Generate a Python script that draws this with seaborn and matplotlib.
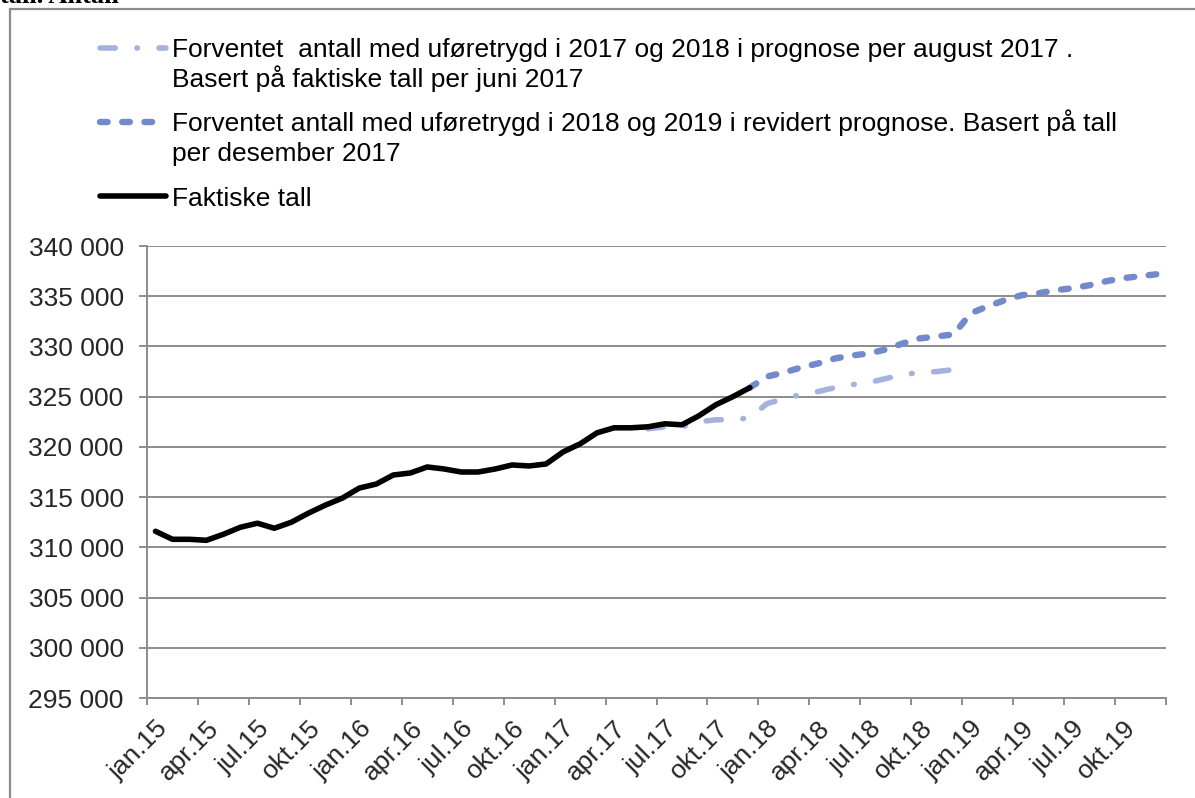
import numpy as np
import pandas as pd
import matplotlib
matplotlib.use("Agg")
import matplotlib.pyplot as plt
from matplotlib.lines import Line2D
from matplotlib.patches import Rectangle
import seaborn as sns

# ---------------- data ----------------
years = ["15", "16", "17", "18", "19"]
month_names = ["jan.", "feb.", "mar.", "apr.", "mai.", "jun.",
               "jul.", "aug.", "sep.", "okt.", "nov.", "des."]
months = [m + y for y in years for m in month_names]          # jan.15 .. des.19

# Faktiske tall: jan.15 .. des.17
actual = [311600, 310800, 310800, 310700, 311300, 312000, 312400, 311900,
          312500, 313400, 314200, 314900, 315900, 316300, 317200, 317400,
          318000, 317800, 317500, 317500, 317800, 318200, 318100, 318300,
          319500, 320300, 321400, 321900, 321900, 322000, 322300, 322200,
          323100, 324200, 325000, 325900]
actual_start = "jan.15"

# Prognose per august 2017: jun.17 .. des.18
prog_aug17 = [321800, 322000, 322000, 322500, 322700, 322700, 322900,
              324300, 324800, 325200, 325500, 325900, 326200, 326400,
              326800, 327200, 327400, 327500, 327700]
prog_aug17_start = "jun.17"

# Revidert prognose: des.17 .. des.19
prog_rev = [325900,
            327000, 327400, 327900, 328300, 328800, 329100, 329300,
            329700, 330300, 330800, 331000, 331200,
            333300, 334000, 334600, 335100, 335300, 335600, 335800,
            336100, 336500, 336800, 337000, 337200]
prog_rev_start = "des.17"

legend_labels = [
    ["Forventet  antall med uføretrygd i 2017 og 2018 i prognose per august 2017 .",
     "Basert på faktiske tall per juni 2017"],
    ["Forventet antall med uføretrygd i 2018 og 2019 i revidert prognose. Basert på tall",
     "per desember 2017"],
    ["Faktiske tall"],
]
title_cut = "tall. Antall"

y_ticks = list(range(295000, 340001, 5000))
label_months = [m for i, m in enumerate(months) if i % 3 == 0]

# ---------------- style ----------------
sns.set_theme(style="white")
plt.rcParams["font.family"] = ["Liberation Sans", "DejaVu Sans"]
plt.rcParams["lines.scale_dashes"] = False

W, H = 1195, 798
fig = plt.figure(figsize=(W / 100, H / 100), dpi=100)
fig.patch.set_facecolor("white")

def fx(px):
    return px / W

def fy(py):
    return 1 - py / H

ax_l, ax_r, ax_t, ax_b = 147, 1166, 246, 698
ax = fig.add_axes([fx(ax_l), fy(ax_b), fx(ax_r - ax_l), (ax_b - ax_t) / H])
ax.set_facecolor("white")

GRAY = "#8c8c8c"
LIGHT = "#a5b2e0"
DARK = "#7289cc"

idx = {m: i for i, m in enumerate(months)}

def series_df(vals, start):
    s = idx[start]
    return pd.DataFrame({"x": np.arange(s, s + len(vals)), "y": vals})

df_light = series_df(prog_aug17, prog_aug17_start)
df_dark = series_df(prog_rev, prog_rev_start)
df_act = series_df(actual, actual_start)

LW_LIGHT, LW_DARK, LW_ACT = 4.0, 4.6, 4.0
light_ls = (0, (11.0, 15.5, 0.5, 15.5))
dark_ls = (0, (5.5, 10.5))

sns.lineplot(data=df_light, x="x", y="y", ax=ax, color=LIGHT, lw=LW_LIGHT)
l1 = ax.lines[-1]
l1.set_linestyle(light_ls)
l1.set_dash_capstyle("round")

sns.lineplot(data=df_dark, x="x", y="y", ax=ax, color=DARK, lw=LW_DARK)
l2 = ax.lines[-1]
l2.set_linestyle(dark_ls)
l2.set_dash_capstyle("round")

sns.lineplot(data=df_act, x="x", y="y", ax=ax, color="black", lw=LW_ACT)
l3 = ax.lines[-1]
l3.set_solid_capstyle("round")
l3.set_solid_joinstyle("round")

# axes
ax.set_xlim(-0.5, len(months) - 0.5)
ax.set_ylim(295000, 340000)
ax.set_yticks(y_ticks)
ax.set_yticklabels([f"{v:,}".replace(",", " ") for v in y_ticks])
ax.set_xlabel("")
ax.set_ylabel("")

ax.set_xticks(np.arange(-0.5, len(months), 3))
ax.set_xticklabels([])
ax.set_xticks(np.arange(0, len(months), 3), minor=True)
ax.set_xticklabels(label_months, minor=True)
ax.tick_params(axis="x", which="major", direction="out", length=5, width=1.4,
               color=GRAY, bottom=True)
ax.tick_params(axis="x", which="minor", length=0, pad=13, labelsize=19,
               bottom=True)
for lbl in ax.get_xticklabels(minor=True):
    lbl.set_rotation(45)
    lbl.set_ha("right")
    lbl.set_va("top")
    lbl.set_rotation_mode("anchor")

ax.tick_params(axis="y", direction="out", length=5.8, width=1.4, color=GRAY,
               pad=11, labelsize=19, left=True)

ax.grid(axis="y", color=GRAY, lw=1.4)
ax.grid(axis="x", visible=False)
ax.set_axisbelow(True)
for side in ["top", "right"]:
    ax.spines[side].set_visible(False)
for side in ["left", "bottom"]:
    ax.spines[side].set_color(GRAY)
    ax.spines[side].set_linewidth(1.4)

# outer frame (cut at right/bottom)
fig.add_artist(Rectangle((fx(10), -0.2), 1.5, fy(9) + 0.2,
                         transform=fig.transFigure, fill=False,
                         edgecolor=GRAY, lw=1.6))

# cut-off heading at very top
fig.text(0.0, fy(3), title_cut, family="Liberation Serif", weight="bold",
         fontsize=19, va="baseline", ha="left", color="black")

# legend (manual, top)
handles = [
    dict(color=LIGHT, lw=LW_LIGHT, ls=light_ls),
    dict(color=DARK, lw=LW_DARK, ls=dark_ls),
    dict(color="black", lw=LW_ACT, ls="-"),
]
handle_y = [48, 122, 196]
line_gap = 29.5
for h, hy, labs in zip(handles, handle_y, legend_labels):
    ln = Line2D([fx(100), fx(166)], [fy(hy), fy(hy)], transform=fig.transFigure,
                color=h["color"], lw=h["lw"], linestyle=h["ls"],
                dash_capstyle="round", solid_capstyle="round")
    fig.add_artist(ln)
    for k, t in enumerate(labs):
        fig.text(fx(172), fy(hy + 9.5 + k * line_gap), t, fontsize=19,
                 va="baseline", ha="left", color="black")

fig.savefig("out.png", dpi=100, facecolor="white")
